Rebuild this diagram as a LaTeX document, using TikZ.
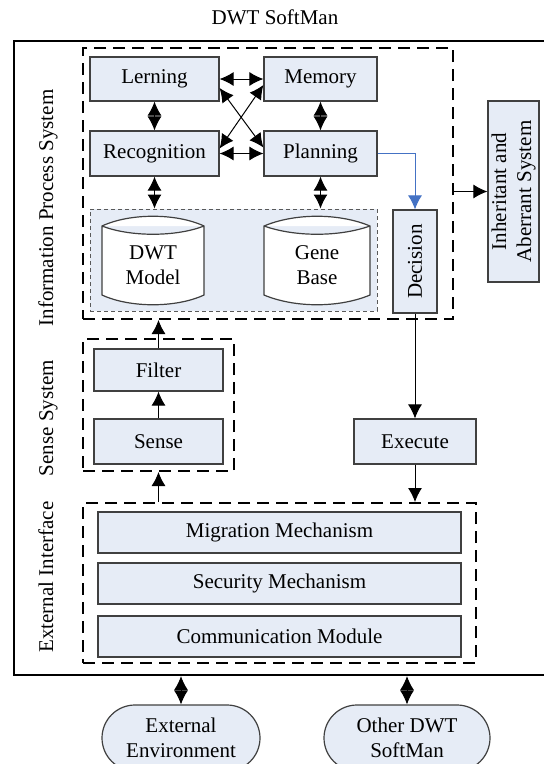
\documentclass[tikz,border=0pt]{standalone}
\usepackage{fontspec}
\setmainfont{Liberation Serif}
\usetikzlibrary{arrows.meta}
\definecolor{boxfill}{RGB}{230,236,246}
\definecolor{boxline}{RGB}{64,64,64}
\definecolor{planblue}{RGB}{68,114,196}
\begin{document}
\begin{tikzpicture}[x=1pt,y=-1pt,
    font=\fontsize{21}{25}\selectfont,
    box/.style={draw=boxline,fill=boxfill,line width=1.2pt,inner sep=0pt,align=center},
    group/.style={draw=black,line width=2pt,dash pattern=on 12pt off 7pt,inner sep=0pt},
    side/.style={rotate=90,anchor=base},
    tip/.style={-{Latex[length=14pt,width=14pt]}},
    dbl/.style={{Latex[length=14pt,width=14pt]}-{Latex[length=14pt,width=14pt]}}]
      \useasboundingbox (0,0) rectangle (544,764);
      \draw
        (275,17) node (title){DWT SoftMan}
        (284,358) node[draw,line width=2.2pt,inner sep=0pt,minimum width=540pt,minimum height=634pt] (outer){};
      % groups
      \draw
        (268,183.5) node[group,minimum width=370pt,minimum height=271pt] (info){}
        (158.5,405) node[group,minimum width=151pt,minimum height=132pt] (sensesys){}
        (279.5,583) node[group,minimum width=393pt,minimum height=160pt] (extif){}
        (233.5,260) node[draw=gray!70!black,fill=boxfill,line width=1pt,dash pattern=on 4pt off 3pt,
          minimum width=287pt,minimum height=102pt] (kb){};
      \draw
        (53,208) node[side] (infolabel){Information Process System}
        (53,418) node[side] (senselabel){Sense System}
        (53,577) node[side] (extlabel){External Interface};
      % boxes
      \draw
        (154.5,79) node[box,minimum width=129pt,minimum height=44pt] (lerning){Lerning}
        (320.5,79) node[box,minimum width=113pt,minimum height=44pt] (memory){Memory}
        (154.5,153.5) node[box,minimum width=129pt,minimum height=45pt] (recognition){Recognition}
        (320.5,153.5) node[box,minimum width=113pt,minimum height=45pt] (planning){Planning}
        (415,261.5) node[box,rotate=90,minimum width=103pt,minimum height=44pt] (decision){Decision}
        (513.5,191.5) node[box,rotate=90,minimum width=181pt,minimum height=51pt] (inherit){Inheritant and\\Aberrant System}
        (158.5,370) node[box,minimum width=129pt,minimum height=42pt] (filter){Filter}
        (158.5,441.5) node[box,minimum width=129pt,minimum height=45pt] (sense){Sense}
        (415,441.5) node[box,minimum width=122pt,minimum height=45pt] (execute){Execute}
        (279.5,532.5) node[box,minimum width=363pt,minimum height=41pt] (migration){Migration Mechanism}
        (279.5,583.5) node[box,minimum width=363pt,minimum height=41pt] (security){Security Mechanism}
        (279.5,636.5) node[box,minimum width=363pt,minimum height=41pt] (comm){Communication Module}
        (181,738) node[box,rounded corners=33pt,minimum width=158pt,minimum height=66pt] (env){External\\Environment}
        (407,738) node[box,rounded corners=33pt,minimum width=166pt,minimum height=66pt] (other){Other DWT\\SoftMan};
      % databases
      \draw[draw=boxline,fill=white,line width=1.2pt]
        (102,226) .. controls (130,213) and (176,213) .. (204,226) -- (204,295)
        .. controls (176,308) and (130,308) .. (102,295) -- cycle
        (102,226) .. controls (130,237) and (176,237) .. (204,226);
      \draw[draw=boxline,fill=white,line width=1.2pt]
        (264,226) .. controls (295,213) and (339,213) .. (370,226) -- (370,295)
        .. controls (339,308) and (295,308) .. (264,295) -- cycle
        (264,226) .. controls (295,237) and (339,237) .. (370,226);
      \draw
        (153,265) node[align=center] (dwtmodel){DWT\\Model}
        (317,265) node[align=center] (genebase){Gene\\Base};
      \begin{scope}[dbl,line width=1pt]
        \draw (lerning) to (memory);
        \draw (recognition) to (planning);
        \draw ([yshift=-9pt]lerning.east) to ([yshift=6pt]planning.west);
        \draw ([yshift=-6pt]memory.west) to ([yshift=5pt]recognition.east);
        \draw (lerning) to (recognition);
        \draw (memory) to (planning);
        \draw (recognition) to (recognition |- kb.north);
        \draw (planning) to (planning |- kb.north);
        \draw (env) to (env |- outer.south);
        \draw (other) to (other |- outer.south);
      \end{scope}
      \begin{scope}[tip,line width=1pt]
        \draw[planblue] (planning) -| (decision);
        \draw (info.east |- inherit) to (inherit);
        \draw (decision) to (execute);
        \draw (execute) to (execute |- extif.north);
        \draw (sense) to (filter);
        \draw (filter) to (filter |- info.south);
        \draw (extif.north -| filter) to (sensesys.south -| filter);
      \end{scope}
    \end{tikzpicture}
\end{document}
